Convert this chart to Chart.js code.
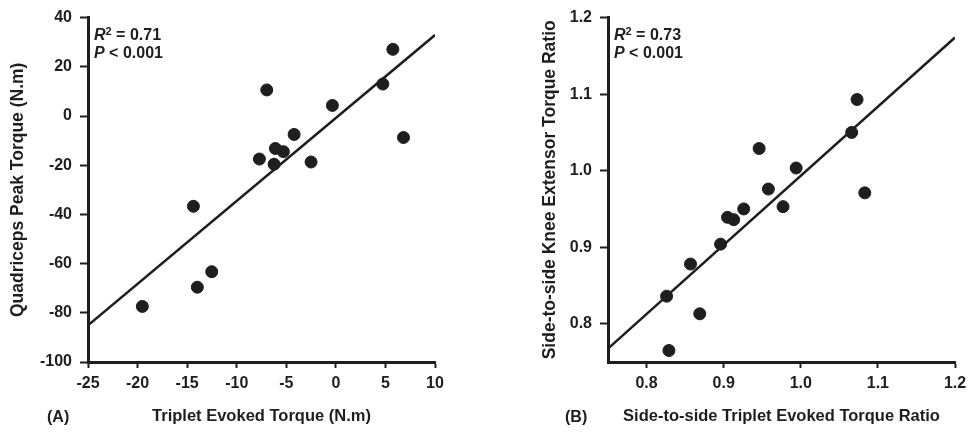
<!DOCTYPE html>
<html>
<head>
<meta charset="utf-8">
<script src="https://cdn.jsdelivr.net/npm/chart.js@4/dist/chart.umd.min.js"></script>
<style>
    body { margin: 0; background: #fff; }
    .panel { position: absolute; top: 0; width: 487px; height: 433px; }
    #panelA { left: 0; }
    #panelB { left: 487px; }
</style>
</head>
<body>
<div class="panel" id="panelA"><canvas id="chartA"></canvas></div>
<div class="panel" id="panelB"><canvas id="chartB"></canvas></div>
<script>
// Panel A - quadriceps peak torque vs triplet evoked torque
const tripletA = [5.75, -6.97, -0.35, 4.74, 6.82, -4.21, -6.1, -5.29, -7.71, -6.23, -2.5, -14.37, -12.52, -13.97, -19.52];
const peakA = [27.1, 10.6, 4.3, 13.0, -8.75, -7.5, -13.2, -14.5, -17.5, -19.6, -18.7, -36.7, -63.3, -69.6, -77.4];
const fitXA = [-25, 10];
const fitYA = [-85.1, 32.9];
const xTicksA = [-25, -20, -15, -10, -5, 0, 5, 10];
const yTicksA = [-100, -80, -60, -40, -20, 0, 20, 40];

// Panel B - side-to-side ratios
const tripletB = [1.073, 1.066, 0.946, 0.994, 0.958, 1.083, 0.977, 0.926, 0.905, 0.913, 0.896, 0.857, 0.826, 0.869, 0.829];
const kneeB = [1.093, 1.050, 1.029, 1.0035, 0.976, 0.971, 0.953, 0.950, 0.939, 0.936, 0.904, 0.878, 0.836, 0.813, 0.765];
const fitXB = [0.75, 1.2];
const fitYB = [0.7675, 1.174];
const xTicksB = [0.8, 0.9, 1.0, 1.1, 1.2];
const yTicksB = [0.8, 0.9, 1.0, 1.1, 1.2];

const INK = '#1e1e1e';
const FONT = '"Liberation Sans", Arial, sans-serif';

function statsPlugin(r2, tag, tagX) {
    return {
        id: 'stats',
        afterDraw(chart) {
            const ctx = chart.ctx;
            const a = chart.chartArea;
            ctx.save();
            ctx.fillStyle = INK;
            ctx.textBaseline = 'alphabetic';
            let x = a.left + 6;
            ctx.font = 'italic bold 16px ' + FONT;
            ctx.fillText('R', x, a.top + 22);
            x += ctx.measureText('R').width;
            ctx.font = 'bold 11px ' + FONT;
            ctx.fillText('2', x, a.top + 17);
            x += ctx.measureText('2').width;
            ctx.font = 'bold 16px ' + FONT;
            ctx.fillText(' = ' + r2, x, a.top + 22);

            x = a.left + 6;
            ctx.font = 'italic bold 16px ' + FONT;
            ctx.fillText('P', x, a.top + 40);
            x += ctx.measureText('P').width;
            ctx.font = 'bold 16px ' + FONT;
            ctx.fillText(' < 0.001', x, a.top + 40);

            ctx.fillText(tag, tagX, 422);
            ctx.restore();
        }
    };
}

function makeChart(id, xs, ys, fx, fy, cfg) {
    const ctx = document.getElementById(id).getContext('2d');
    const points = xs.map((x, i) => ({ x: x, y: ys[i] }));
    const fit = fx.map((x, i) => ({ x: x, y: fy[i] }));

    const axis = (title, ticks, min, tickLen, tickPad, titleSize, titlePad) => ({
        type: 'linear',
        min: min,
        max: ticks[ticks.length - 1],
        border: { display: true, color: INK, width: 3 },
        grid: {
            display: true,
            drawOnChartArea: false,
            drawTicks: true,
            tickLength: tickLen,
            tickWidth: 2,
            tickColor: INK
        },
        ticks: {
            color: INK,
            padding: tickPad,
            font: { family: FONT, size: 16, weight: 'bold' },
            callback: v => cfg.fmt(v)
        },
        afterBuildTicks: scale => {
            scale.ticks = ticks.map(v => ({ value: v }));
        },
        title: {
            display: true,
            text: title,
            color: INK,
            font: { family: FONT, size: titleSize, weight: 'bold' },
            padding: titlePad
        }
    });

    const xAxis = axis(cfg.xTitle, cfg.xTicks, cfg.xMin, 6, 6, 16.5, { top: 0, bottom: 6.5 });
    xAxis.afterFit = scale => { scale.height = 71; };
    const yAxis = axis(cfg.yTitle, cfg.yTicks, cfg.yMin, 8, 8, 17.5, { top: cfg.yTitlePad, bottom: 0 });
    yAxis.afterFit = scale => { scale.width = cfg.yWidth; };

    return new Chart(ctx, {
        type: 'scatter',
        data: {
            datasets: [
                {
                    data: points,
                    backgroundColor: INK,
                    borderColor: INK,
                    pointRadius: 6,
                    pointHoverRadius: 6
                },
                {
                    type: 'line',
                    data: fit,
                    borderColor: INK,
                    borderWidth: 2.5,
                    pointRadius: 0,
                    fill: false
                }
            ]
        },
        options: {
            responsive: true,
            maintainAspectRatio: false,
            animation: false,
            layout: { padding: { left: 0, top: 15, right: cfg.padRight, bottom: 0 } },
            plugins: {
                legend: { display: false },
                tooltip: { enabled: false }
            },
            scales: { x: xAxis, y: yAxis }
        },
        plugins: [statsPlugin(cfg.r2, cfg.tag, cfg.tagX)]
    });
}

makeChart('chartA', tripletA, peakA, fitXA, fitYA, {
    xTitle: 'Triplet Evoked Torque (N.m)',
    yTitle: 'Quadriceps Peak Torque (N.m)',
    xTicks: xTicksA, yTicks: yTicksA,
    xMin: -25, yMin: -100,
    fmt: v => String(v),
    yWidth: 88, yTitlePad: 7.5, padRight: 52,
    r2: '0.71', tag: '(A)', tagX: 47
});

makeChart('chartB', tripletB, kneeB, fitXB, fitYB, {
    xTitle: 'Side-to-side Triplet Evoked Torque Ratio',
    yTitle: 'Side-to-side Knee Extensor Torque Ratio',
    xTicks: xTicksB, yTicks: yTicksB,
    xMin: 0.75, yMin: 0.75,
    fmt: v => v.toFixed(1),
    yWidth: 121, yTitlePad: 52.5, padRight: 19,
    r2: '0.73', tag: '(B)', tagX: 78
});
</script>
</body>
</html>
